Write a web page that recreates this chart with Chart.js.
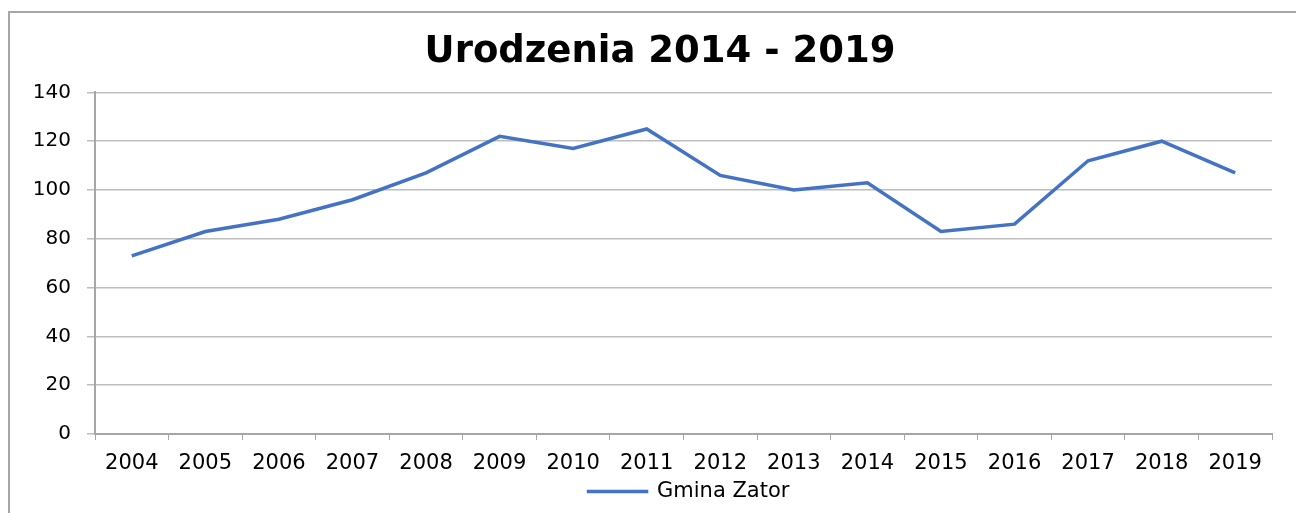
<!DOCTYPE html>
<html>
<head>
<meta charset="utf-8">
<script src="https://cdn.jsdelivr.net/npm/chart.js@4"></script>
<style>
  html, body { margin: 0; padding: 0; background: #fff; }
  #wrap { position: relative; width: 1296px; height: 513px; overflow: hidden; }
  #frame { position: absolute; left: 8px; top: 11px; width: 1400px; height: 600px;
           border-left: 2px solid #a6a6a6; border-top: 2px solid #a6a6a6; }
  canvas { position: absolute; left: 0; top: 0; }
</style>
</head>
<body>
<div id="wrap">
  <div id="frame"></div>
  <canvas id="chartjs_lineChart" width="1296" height="513"></canvas>
</div>
<script>
var lata = ["2004", "2005", "2006", "2007", "2008", "2009", "2010", "2011", "2012", "2013", "2014", "2015", "2016", "2017", "2018", "2019"];
var urodzenia = [73, 83, 88, 96, 107, 122, 117, 125, 106, 100, 103, 83, 86, 112, 120, 107];
var yTicks = [0, 20, 40, 60, 80, 100, 120, 140];

// the original title and legend sit a bit right of the plot centre
var przesuniecie = {
    id: 'przesuniecie',
    afterLayout: function (chart) {
        chart.titleBlock.left += 19;
        chart.titleBlock.right += 19;
        chart.legend.left += 48;
        chart.legend.right += 48;
    }
};

var ctx = document.getElementById('chartjs_lineChart').getContext('2d');
var myChart = new Chart(ctx, {
    type: 'line',
    data: {
        labels: lata,
        datasets: [{
            label: 'Gmina Zator',
            data: urodzenia,
            borderColor: "#4472C4",
            backgroundColor: "#4472C4",
            borderWidth: 3.5,
            pointRadius: 0,
            tension: 0
        }]
    },
    options: {
        responsive: false,
        animation: false,
        layout: { padding: { left: 10, right: 24, top: 0, bottom: 1 } },
        plugins: {
            title: {
                display: true,
                text: 'Urodzenia 2014 - 2019',
                color: '#000',
                font: { family: 'DejaVu Sans', size: 37, weight: 'bold', lineHeight: 1.2 },
                padding: { top: 30, bottom: 18 }
            },
            legend: {
                position: 'bottom',
                labels: {
                    color: '#000',
                    font: { family: 'DejaVu Sans', size: 21 },
                    boxWidth: 58,
                    boxHeight: 0.01,
                    padding: 6
                }
            },
            tooltip: { enabled: false }
        },
        scales: {
            x: {
                offset: true,
                grid: { offset: true, drawOnChartArea: false, tickLength: 6, color: '#a6a6a6' },
                border: { color: '#a6a6a6', width: 2 },
                ticks: { color: '#000', font: { family: 'DejaVu Sans', size: 21 }, maxRotation: 0, padding: 11 },
                afterFit: function (scale) { scale.height = 41; }
            },
            y: {
                min: 0,
                max: 140,
                afterBuildTicks: function (scale) {
                    scale.ticks = yTicks.map(function (v) { return { value: v }; });
                },
                grid: { color: '#bdbdbd', lineWidth: 1.5, tickLength: 8 },
                border: { color: '#a6a6a6', width: 2 },
                ticks: { color: '#000', font: { family: 'DejaVu Sans', size: 20 }, padding: 16 },
                afterFit: function (scale) { scale.width = 85; }
            }
        }
    },
    plugins: [przesuniecie]
});
</script>
</body>
</html>
